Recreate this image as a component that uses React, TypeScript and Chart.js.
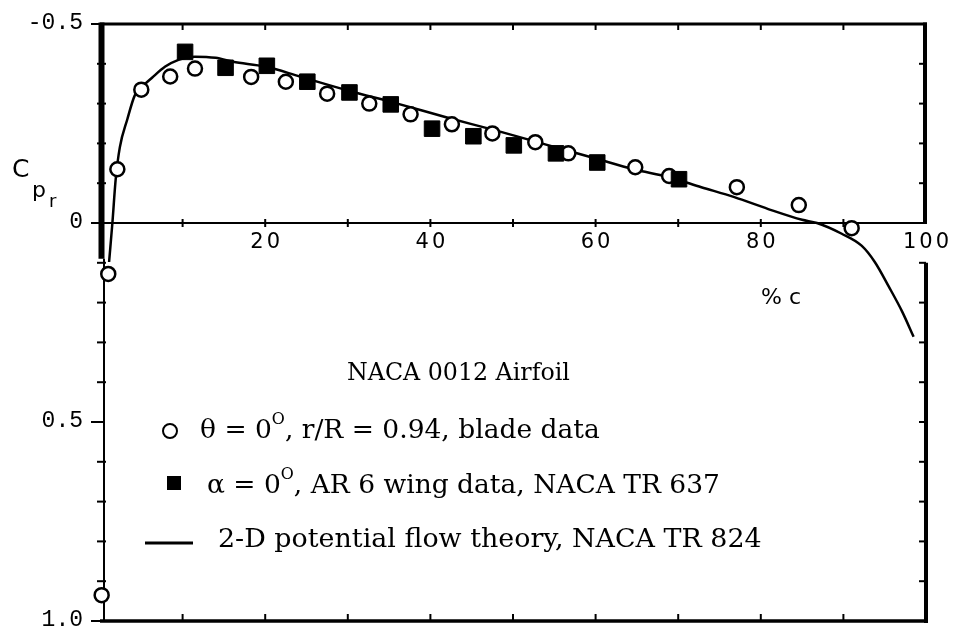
import React, { useEffect, useRef } from "react";
import { Chart, registerables } from "chart.js";

Chart.register(...registerables);

// 2-D potential flow theory (NACA TR 824)
const theoryX = [1.1, 1.5, 1.9, 2.4, 3.3, 4.2, 5.0, 6.3, 7.9, 9.5, 11.5, 14, 16.1, 20, 24.2, 30, 36, 42, 48, 54, 60, 64.6, 68.9, 72.8, 76.8, 80.9, 85, 86.8, 89.8, 92.2, 93.8, 95.5, 97.1, 98.5];
const theoryCp = [0.098, 0, -0.11, -0.19, -0.26, -0.32, -0.34, -0.365, -0.393, -0.41, -0.418, -0.415, -0.405, -0.393, -0.368, -0.333, -0.3, -0.265, -0.232, -0.197, -0.162, -0.135, -0.115, -0.09, -0.065, -0.035, -0.008, 0, 0.027, 0.057, 0.098, 0.16, 0.222, 0.286];

// blade data, theta = 0, r/R = 0.94 (open circles)
const bladeX = [0.2, 1.0, 2.1, 5.0, 8.5, 11.5, 18.3, 22.5, 27.5, 32.6, 37.6, 42.6, 47.5, 52.7, 56.7, 64.8, 68.9, 77.1, 84.6, 91];
const bladeCp = [0.935, 0.128, -0.135, -0.335, -0.368, -0.388, -0.367, -0.355, -0.325, -0.3, -0.273, -0.248, -0.225, -0.203, -0.175, -0.14, -0.118, -0.09, -0.045, 0.013];

// AR 6 wing data, NACA TR 637 (filled squares)
const wingX = [10.3, 15.2, 20.2, 25.1, 30.2, 35.2, 40.2, 45.2, 50.1, 55.2, 60.2, 70.1];
const wingCp = [-0.43, -0.39, -0.395, -0.355, -0.328, -0.298, -0.237, -0.218, -0.195, -0.175, -0.152, -0.11];

const xTickValues = [20, 40, 60, 80, 100];
const xTickLabels = ["20", "40", "60", "80", "100"];
const yTickValues = [-0.5, 0, 0.5, 1.0];
const yTickLabels = ["-0.5", "0", "0.5", "1.0"];

const titleText = "NACA 0012 Airfoil";
const xAxisTitle = "% c";
const legendBlade = ["θ = 0", "O", ", r/R = 0.94, blade data"];
const legendWing = ["α = 0", "O", ", AR 6 wing data, NACA TR 637"];
const legendTheory = ["2-D potential flow theory, NACA TR 824"];

const SERIF = '"DejaVu Serif", serif';
const SANS = '"DejaVu Sans", sans-serif';
const MONO = '"Liberation Mono", monospace';

function drawParts(ctx: CanvasRenderingContext2D, parts: string[], left: number, midY: number, targetW: number) {
  const supScale = 0.6;
  ctx.font = `100px ${SERIF}`;
  let w = 0;
  parts.forEach((p, i) => {
    const isSup = parts.length === 3 && i === 1;
    w += ctx.measureText(p).width * (isSup ? supScale : 1);
  });
  const size = (100 * targetW) / w;
  let x = left;
  ctx.textBaseline = "middle";
  ctx.textAlign = "left";
  parts.forEach((p, i) => {
    const isSup = parts.length === 3 && i === 1;
    const s = isSup ? size * supScale : size;
    ctx.font = `${s}px ${SERIF}`;
    ctx.fillText(p, x, isSup ? midY - size * 0.42 : midY);
    x += ctx.measureText(p).width;
  });
}

const framePlugin = {
  id: "framePlugin",
  beforeDatasetsDraw(chart: any) {
    const ctx: CanvasRenderingContext2D = chart.ctx;
    const xs = chart.scales.x;
    const ys = chart.scales.y;
    const X = (v: number) => xs.getPixelForValue(v);
    const Y = (v: number) => ys.getPixelForValue(v);
    ctx.save();
    ctx.strokeStyle = "#000";
    ctx.lineCap = "butt";
    const seg = (x1: number, y1: number, x2: number, y2: number, w: number) => {
      ctx.lineWidth = w;
      ctx.beginPath();
      ctx.moveTo(x1, y1);
      ctx.lineTo(x2, y2);
      ctx.stroke();
    };
    seg(X(0), Y(-0.5), X(100) + 1, Y(-0.5), 3);
    seg(X(0) + 1.5, Y(-0.5) - 1.5, X(0) + 1.5, Y(0.09), 6);
    seg(X(0) + 4, Y(0.09), X(0) + 4, Y(1.0), 2);
    seg(X(0), Y(0), X(100), Y(0), 2);
    seg(X(100) - 1, Y(-0.5) - 1.5, X(100) - 1, Y(0) + 1, 4);
    seg(X(100), Y(0.1), X(100), Y(1.0) + 2, 4);
    seg(X(0), Y(1.0), X(100) + 2, Y(1.0), 3.5);
    for (let i = 1; i < 10; i++) {
      const v = i * 10;
      seg(X(v), Y(-0.5), X(v), Y(-0.5) + 6, 2);
      seg(X(v), Y(0) - 4, X(v), Y(0) + 4, 2);
      seg(X(v), Y(1.0), X(v), Y(1.0) - 7, 2);
    }
    for (let i = -4; i <= 9; i++) {
      const v = i / 10;
      if (i !== 0 && i !== 5) seg(X(0) - 3, Y(v), X(0) + 6, Y(v), 2);
      if (i < 0 || i >= 1) seg(X(100) - 7, Y(v), X(100), Y(v), 2);
    }
    yTickValues.forEach((v) => seg(X(0) - 9, Y(v), X(0) + 4, Y(v), 2));
    ctx.restore();
  },
  afterDatasetsDraw(chart: any) {
    const ctx: CanvasRenderingContext2D = chart.ctx;
    const xs = chart.scales.x;
    const ys = chart.scales.y;
    const X = (v: number) => xs.getPixelForValue(v);
    const Y = (v: number) => ys.getPixelForValue(v);
    ctx.save();
    ctx.fillStyle = "#000";
    ctx.strokeStyle = "#000";
    // y tick labels
    ctx.font = `23px ${MONO}`;
    ctx.textAlign = "right";
    ctx.textBaseline = "middle";
    yTickValues.forEach((v, i) => {
      ctx.fillText(yTickLabels[i], X(0) - 17, Y(v) - 1);
    });
    // x tick labels
    ctx.font = `21px ${SANS}`;
    (ctx as any).letterSpacing = "3px";
    ctx.textAlign = "center";
    xTickValues.forEach((v, i) => {
      ctx.fillText(xTickLabels[i], X(v) + 1.5, Y(0) + 20);
    });
    (ctx as any).letterSpacing = "0px";
    // y axis title C_pr
    ctx.textAlign = "left";
    ctx.textBaseline = "alphabetic";
    ctx.font = `25px ${SANS}`;
    ctx.fillText("C", 12, 177);
    ctx.font = `22px ${SANS}`;
    ctx.fillText("p", 32, 197);
    ctx.font = `18px ${SANS}`;
    ctx.fillText("r", 49, 207);
    // x axis title
    ctx.font = `22px ${SANS}`;
    ctx.textAlign = "center";
    ctx.textBaseline = "middle";
    ctx.fillText(xAxisTitle, 781, 298);
    // title
    drawParts(ctx, [titleText], 347, 374, 223);
    // legend
    ctx.lineWidth = 2;
    ctx.beginPath();
    ctx.arc(170, 431, 7, 0, Math.PI * 2);
    ctx.fillStyle = "#fff";
    ctx.fill();
    ctx.stroke();
    ctx.fillStyle = "#000";
    drawParts(ctx, legendBlade, 200, 431, 400);
    ctx.fillRect(167, 476, 14, 14);
    drawParts(ctx, legendWing, 207, 486, 513);
    ctx.lineWidth = 3;
    ctx.beginPath();
    ctx.moveTo(145, 543);
    ctx.lineTo(193, 543);
    ctx.stroke();
    drawParts(ctx, legendTheory, 218, 540, 544);
    ctx.restore();
  },
};

export default function App() {
  const ref = useRef<HTMLCanvasElement | null>(null);
  useEffect(() => {
    if (!ref.current) return;
    const chart = new Chart(ref.current, {
      type: "scatter",
      data: {
        datasets: [
          {
            label: "2-D potential flow theory, NACA TR 824",
            type: "line",
            data: theoryX.map((x, i) => ({ x, y: theoryCp[i] })),
            borderColor: "#000",
            borderWidth: 2.5,
            pointRadius: 0,
            cubicInterpolationMode: "monotone",
            fill: false,
            order: 3,
            clip: false,
          } as any,
          {
            label: "θ = 0°, r/R = 0.94, blade data",
            data: bladeX.map((x, i) => ({ x, y: bladeCp[i] })),
            pointStyle: "circle",
            pointRadius: 7,
            backgroundColor: "#fff",
            borderColor: "#000",
            borderWidth: 2.5,
            order: 2,
            clip: false,
          } as any,
          {
            label: "α = 0°, AR 6 wing data, NACA TR 637",
            data: wingX.map((x, i) => ({ x, y: wingCp[i] })),
            pointStyle: "rect",
            pointRadius: 11,
            backgroundColor: "#000",
            borderColor: "#000",
            borderWidth: 1,
            order: 1,
            clip: false,
          } as any,
        ],
      },
      options: {
        animation: false,
        responsive: false,
        maintainAspectRatio: false,
        devicePixelRatio: 1,
        events: [],
        layout: { padding: { left: 100, right: 28, top: 24, bottom: 11 } },
        scales: {
          x: { type: "linear", min: 0, max: 100, display: false },
          y: { type: "linear", min: -0.5, max: 1.0, reverse: true, display: false },
        },
        plugins: { legend: { display: false }, tooltip: { enabled: false }, title: { display: false } },
      },
      plugins: [framePlugin],
    });
    return () => chart.destroy();
  }, []);
  return (
    <div style={{ position: "fixed", left: 0, top: 0, width: 954, height: 633, background: "#fff" }}>
      <canvas ref={ref} width={954} height={633} style={{ display: "block", width: 954, height: 633 }} />
    </div>
  );
}
